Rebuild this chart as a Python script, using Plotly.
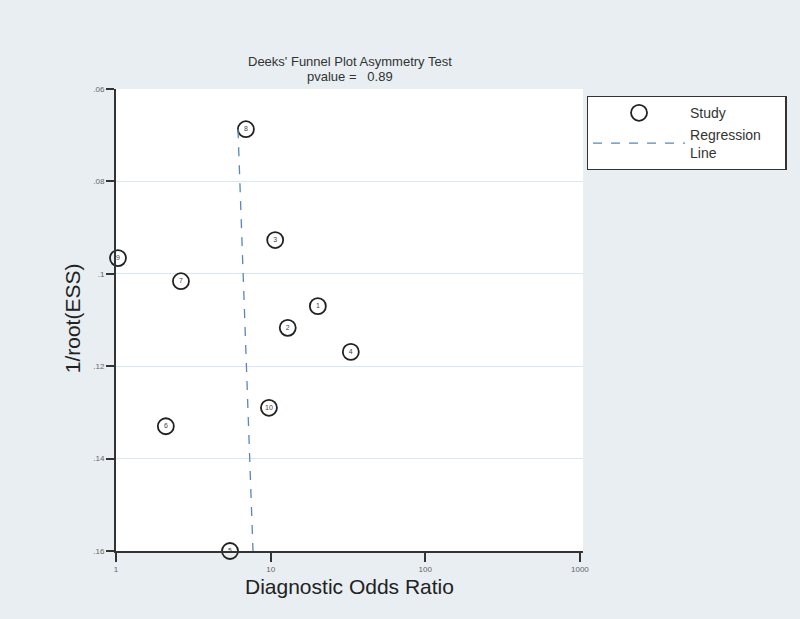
import plotly.graph_objects as go

# study estimates
study_id = ["1", "2", "3", "4", "5", "6", "7", "8", "9", "10"]
dor = [20.2, 12.9, 10.7, 33.0, 5.46, 2.1, 2.63, 6.92, 1.03, 9.75]
inv_root_ess = [0.107, 0.1117, 0.0927, 0.1169, 0.16, 0.133, 0.1016, 0.0687, 0.0966, 0.129]

# regression line end points
reg_x = [6.15, 7.69]
reg_y = [0.0687, 0.16]

y_ticks = [0.06, 0.08, 0.1, 0.12, 0.14, 0.16]
y_labels = [".06", ".08", ".1", ".12", ".14", ".16"]
x_ticks = [1, 10, 100, 1000]
x_labels = ["1", "10", "100", "1000"]

bg = "#e8eef1"
font = "Liberation Sans, Arial, sans-serif"

fig = go.Figure()
fig.add_trace(go.Scatter(
    x=dor, y=inv_root_ess, mode="markers+text",
    text=study_id, textposition="middle center",
    textfont=dict(size=7, color="#444"),
    marker=dict(symbol="circle-open", size=16, color="#222",
                line=dict(width=1.8, color="#222")),
    name="Study", cliponaxis=False,
))
fig.add_trace(go.Scatter(
    x=reg_x, y=reg_y, mode="lines",
    line=dict(color="#5b86b8", width=1.3, dash="dash"),
    name="Regression&nbsp;&nbsp;&nbsp;&nbsp;&nbsp;<br>Line",
))

# two-line title, tight line spacing
fig.add_annotation(text="Deeks' Funnel Plot Asymmetry Test", xref="paper", yref="paper",
                   x=0.5, y=1.0606, showarrow=False, yanchor="middle",
                   font=dict(size=13, color="#333"))
fig.add_annotation(text="pvalue =   0.89", xref="paper", yref="paper",
                   x=0.5, y=1.0281, showarrow=False, yanchor="middle",
                   font=dict(size=13, color="#333"))
# axis titles
fig.add_annotation(text="Diagnostic Odds Ratio", xref="paper", yref="paper",
                   x=0.5, y=-0.0779, showarrow=False, yanchor="middle",
                   font=dict(size=21, color="#222"))
fig.add_annotation(text="1/root(ESS)", xref="paper", yref="paper",
                   x=-0.094, y=0.504, showarrow=False, textangle=-90,
                   xanchor="center", yanchor="middle",
                   font=dict(size=21, color="#222"))

fig.update_layout(
    width=800, height=619,
    paper_bgcolor=bg, plot_bgcolor="white",
    margin=dict(l=116, r=217, t=89, b=68),
    font=dict(family=font, color="#222"),
    showlegend=True,
    legend=dict(x=1.008, y=0.985, xanchor="left", yanchor="top",
                bgcolor="white", bordercolor="#333", borderwidth=1.3,
                font=dict(size=14, color="#333"), itemwidth=92,
                tracegroupgap=2),
)
fig.update_xaxes(
    type="log", range=[0, 3.02], tickvals=x_ticks, ticktext=x_labels,
    ticks="outside", ticklen=9, tickcolor="#333", tickwidth=1.5,
    showline=True, linecolor="#333", linewidth=2, showgrid=False,
    zeroline=False, tickfont=dict(size=8, color="#666"),
)
fig.update_yaxes(
    range=[0.16, 0.06], tickvals=y_ticks, ticktext=y_labels,
    ticks="outside", ticklen=8, tickcolor="#333", tickwidth=1.5,
    showline=True, linecolor="#333", linewidth=2,
    showgrid=True, gridcolor="#d8e8f3", gridwidth=1,
    zeroline=False, tickfont=dict(size=8, color="#666"),
)

fig.write_html(
    "out.html",
    config={"displayModeBar": False},
    post_script="document.body.style.margin='0';"
                "document.body.style.background='#e8eef1';",
)
